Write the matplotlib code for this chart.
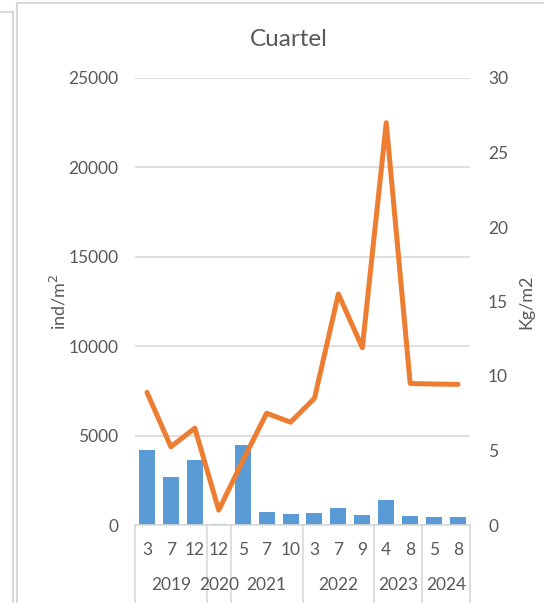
import matplotlib.pyplot as plt
import matplotlib.transforms as mtransforms
from matplotlib.lines import Line2D
import numpy as np

plt.rcParams['font.family'] = ['Lato', 'DejaVu Sans']

# data
months = ['3', '7', '12', '12', '5', '7', '10', '3', '7', '9', '4', '8', '5', '8']
years = ['2019', '2020', '2021', '2022', '2023', '2024']
months_per_year = [3, 1, 3, 3, 2, 2]
density = [4200, 2700, 3620, 40, 4475, 710, 600, 650, 970, 540, 1400, 490, 430, 430]   # ind/m2
biomass = [8.9, 5.25, 6.5, 1.0, 4.3, 7.5, 6.9, 8.5, 15.5, 11.9, 27.0, 9.5, 9.46, 9.44]  # Kg/m2

txt = '#595959'
grid = '#D9D9D9'
W, H = 544, 603
fs = 12.5

fig = plt.figure(figsize=(W / 100, H / 100), dpi=100)
ax = fig.add_axes([135 / W, 1 - 525 / H, 335 / W, 447 / H])
x = np.arange(len(months))

ax.bar(x, density, width=0.67, color='#5B9BD5', zorder=2)
ax.set_xlim(-0.5, len(months) - 0.5)
ax.set_ylim(0, 25000)
ax.set_yticks(range(0, 25001, 5000))
ax.yaxis.grid(True, color=grid, linewidth=1.2, zorder=0)
ax.set_axisbelow(True)
for s in ['left', 'right', 'top']:
    ax.spines[s].set_visible(False)
ax.spines['bottom'].set_color(grid)
ax.spines['bottom'].set_linewidth(1.2)
ax.tick_params(axis='y', length=0, pad=12, labelsize=fs, labelcolor=txt)
ax.set_xticks([])
ax.set_ylabel('ind/m$^2$', fontsize=13, color=txt, labelpad=0)

ax2 = ax.twinx()
ax2.plot(x, biomass, color='#ED7D31', linewidth=3.6,
         solid_joinstyle='round', solid_capstyle='round', zorder=3)
ax2.set_ylim(0, 30)
ax2.set_yticks(range(0, 31, 5))
for s in ['left', 'right', 'top', 'bottom']:
    ax2.spines[s].set_visible(False)
ax2.tick_params(axis='y', length=0, pad=13, labelsize=fs, labelcolor=txt)
ax2.set_ylabel('Kg/m2', fontsize=13, color=txt, labelpad=7)

# multi-level category axis
trans = mtransforms.blended_transform_factory(ax.transData, fig.transFigure)
y_month = 1 - 550 / H
y_year = 1 - 585 / H
for i, m in enumerate(months):
    ax.text(i, y_month, m, transform=trans, ha='center', va='center',
            fontsize=fs, color=txt)
start = 0
bounds = [-0.5]
for yr, n in zip(years, months_per_year):
    ax.text(start + (n - 1) / 2, y_year, yr, transform=trans, ha='center',
            va='center', fontsize=fs, color=txt)
    start += n
    bounds.append(start - 0.5)
for b in bounds:
    ax.add_line(Line2D([b, b], [1 - 525 / H, 0], transform=trans,
                       color=grid, linewidth=1.2, clip_on=False))

fig.text(289 / W, 1 - 39 / H, 'Cuartel', ha='center', va='center',
         fontsize=17.5, color=txt)

# chart frame edges from the screenshot
fig.add_artist(Line2D([17 / W, 17 / W], [0, 1 - 3 / H], color=grid, linewidth=1.5))
fig.add_artist(Line2D([17 / W, 1], [1 - 3 / H, 1 - 3 / H], color=grid, linewidth=1.5))
fig.add_artist(Line2D([13 / W, 13 / W], [0, 1 - 12 / H], color=grid, linewidth=1.5))
fig.add_artist(Line2D([0, 13 / W], [1 - 12 / H, 1 - 12 / H], color=grid, linewidth=1.5))

fig.savefig('out.png', dpi=100)
